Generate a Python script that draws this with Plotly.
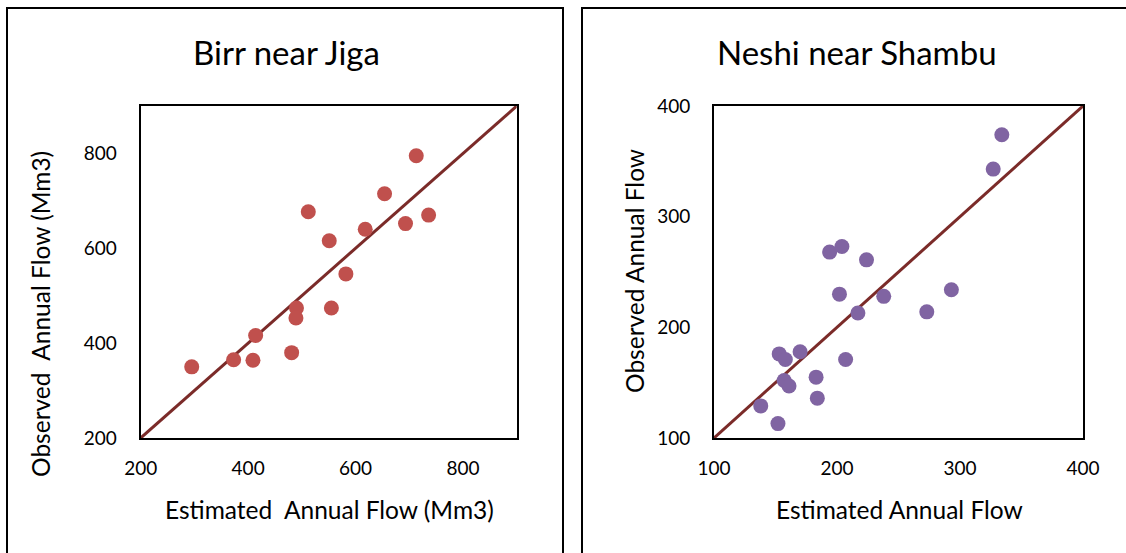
import plotly.graph_objects as go

# Birr near Jiga
birr_est = [295, 373, 409, 414, 481, 490, 489, 555, 512, 551, 582, 618, 654, 693, 736, 713]
birr_obs = [350, 365, 364, 416, 380, 474, 453, 474, 677, 616, 546, 640, 715, 652, 670, 795]
birr_ticks = [200, 400, 600, 800]
birr_range = [200, 900]

# Neshi near Shambu
neshi_est = [334, 327, 194, 204, 224, 202, 238, 217, 273, 293, 153, 158, 170, 207, 157, 161, 183, 184, 138, 152]
neshi_obs = [374, 343, 268, 273, 261, 230, 228, 213, 214, 234, 176, 171, 178, 171, 152, 147, 155, 136, 129, 113]
neshi_ticks = [100, 200, 300, 400]
neshi_range = [100, 400]

FONT = "Lato"
W, H = 1126, 553

fig = go.Figure()

fig.add_trace(go.Scatter(x=birr_range, y=birr_range, mode="lines",
                         line=dict(color="#7B2B29", width=3), xaxis="x", yaxis="y", showlegend=False))
fig.add_trace(go.Scatter(x=birr_est, y=birr_obs, mode="markers",
                         marker=dict(color="#C0504D", size=15), xaxis="x", yaxis="y", showlegend=False))
fig.add_trace(go.Scatter(x=neshi_range, y=neshi_range, mode="lines",
                         line=dict(color="#7B2B29", width=3), xaxis="x2", yaxis="y2", showlegend=False))
fig.add_trace(go.Scatter(x=neshi_est, y=neshi_obs, mode="markers",
                         marker=dict(color="#8064A2", size=15), xaxis="x2", yaxis="y2", showlegend=False))

def px(x):
    return x / W

def py(y):
    return (H - y) / H

common = dict(showgrid=False, zeroline=False, showline=True, linecolor="black", linewidth=2,
              mirror=True, ticks="outside", tickcolor="rgba(0,0,0,0)", automargin=False,
              tickfont=dict(family=FONT, size=19, color="black"))
xcommon = dict(ticklen=12, **common)
ycommon = dict(ticklen=18, **common)

fig.update_layout(
    width=W, height=H,
    margin=dict(l=0, r=0, t=0, b=0, pad=0, autoexpand=False),
    paper_bgcolor="white", plot_bgcolor="white",
    xaxis=dict(domain=[px(140.7), px(516.7)], range=birr_range, tickvals=birr_ticks, anchor="y", **xcommon),
    yaxis=dict(domain=[py(438), py(106)], range=birr_range, tickvals=birr_ticks, anchor="x", **ycommon),
    xaxis2=dict(domain=[px(714), px(1083)], range=neshi_range, tickvals=neshi_ticks, anchor="y2", **xcommon),
    yaxis2=dict(domain=[py(438), py(106)], range=neshi_range, tickvals=neshi_ticks, anchor="x2", **ycommon),
    shapes=[
        dict(type="rect", xref="paper", yref="paper", x0=px(7), x1=px(563), y0=-0.1, y1=py(8),
             line=dict(color="black", width=2), layer="below"),
        dict(type="rect", xref="paper", yref="paper", x0=px(582), x1=1.1, y0=-0.1, y1=py(8),
             line=dict(color="black", width=2), layer="below"),
    ],
    annotations=[
        dict(text="Birr near Jiga", x=px(286), y=py(52), xref="paper", yref="paper", showarrow=False,
             font=dict(family=FONT, size=33, color="black"), xanchor="center", yanchor="middle"),
        dict(text="Neshi near Shambu", x=px(857), y=py(52), xref="paper", yref="paper", showarrow=False,
             font=dict(family=FONT, size=33, color="black"), xanchor="center", yanchor="middle"),
        dict(text="Estimated  Annual Flow (Mm3)", x=px(329), y=py(509), xref="paper", yref="paper",
             showarrow=False, font=dict(family=FONT, size=24.5, color="black"), xanchor="center", yanchor="middle"),
        dict(text="Estimated Annual Flow", x=px(899), y=py(509), xref="paper", yref="paper",
             showarrow=False, font=dict(family=FONT, size=24.5, color="black"), xanchor="center", yanchor="middle"),
        dict(text="Observed  Annual Flow (Mm3)", x=px(40), y=py(314), xref="paper", yref="paper", textangle=-90,
             showarrow=False, font=dict(family=FONT, size=24.5, color="black"), xanchor="center", yanchor="middle"),
        dict(text="Observed Annual Flow", x=px(634), y=py(271), xref="paper", yref="paper", textangle=-90,
             showarrow=False, font=dict(family=FONT, size=24.5, color="black"), xanchor="center", yanchor="middle"),
    ],
)

fig.write_html("out.html")
